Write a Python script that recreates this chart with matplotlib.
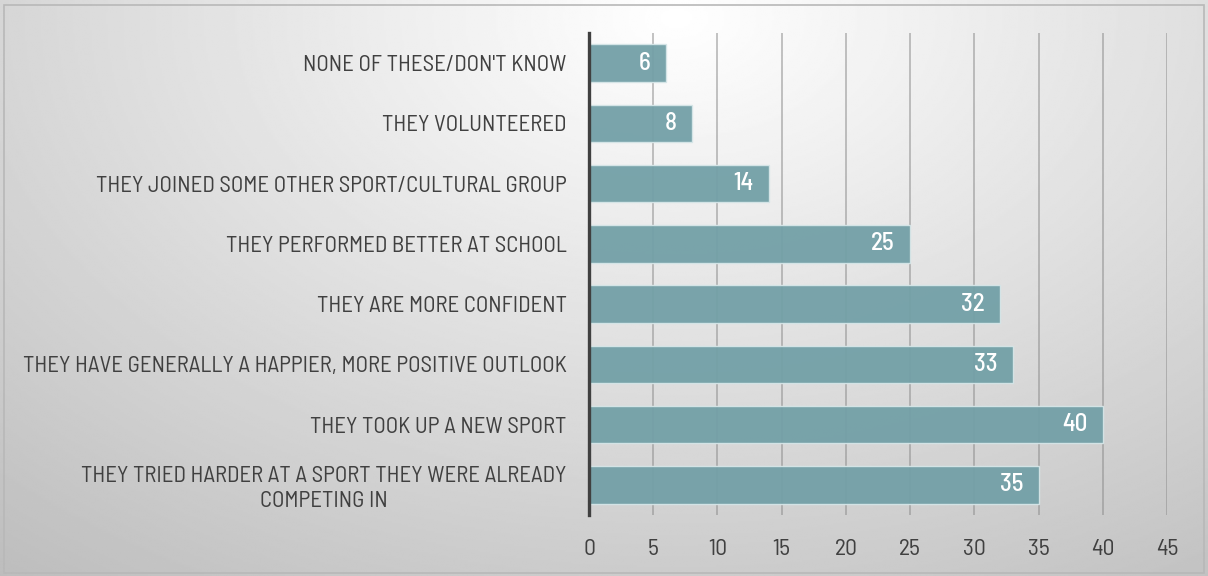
import numpy as np
import matplotlib.pyplot as plt
import matplotlib.font_manager as fm
from matplotlib.patches import Rectangle

# Datos del gráfico (de arriba a abajo)
categorias = [
    "NONE OF THESE/DON'T KNOW",
    "THEY VOLUNTEERED",
    "THEY JOINED SOME OTHER SPORT/CULTURAL GROUP",
    "THEY PERFORMED BETTER AT SCHOOL",
    "THEY ARE MORE CONFIDENT",
    "THEY HAVE GENERALLY A HAPPIER, MORE POSITIVE OUTLOOK",
    "THEY TOOK UP A NEW SPORT",
    "THEY TRIED HARDER AT A SPORT THEY WERE ALREADY\nCOMPETING IN",
]
valores = [6, 8, 14, 25, 32, 33, 40, 35]
ticks_x = [0, 5, 10, 15, 20, 25, 30, 35, 40, 45]

# Fuente estrecha: Barlow Semi Condensed si está, si no DejaVu condensada
nombres = {f.name for f in fm.fontManager.ttflist}
if 'Barlow Semi Condensed' in nombres:
    plt.rcParams['font.family'] = ['Barlow Semi Condensed', 'DejaVu Sans']
    tam = 16.5
else:
    plt.rcParams['font.family'] = ['DejaVu Sans']
    plt.rcParams['font.stretch'] = 'condensed'
    tam = 15
texto = '#404040'

fig = plt.figure(figsize=(12.08, 5.76), dpi=100)

# Fondo con degradado radial
bg = fig.add_axes([0, 0, 1, 1], zorder=-10)
gx, gy = np.meshgrid(np.linspace(0, 1, 600), np.linspace(0, 1, 300))
r = np.sqrt(((gx - 0.56) / 0.9) ** 2 + ((gy - 0.97) / 1.25) ** 2)
val = 1.0 - 0.26 * np.clip(r, 0, 1.2)
bg.imshow(val, cmap='gray', vmin=0, vmax=1, extent=[0, 1, 0, 1],
          origin='lower', aspect='auto', interpolation='bilinear')
bg.add_patch(Rectangle((0.0035, 0.006), 0.993, 0.986, fill=False,
                       edgecolor='#b8b8b8', linewidth=1.2))
bg.set_xlim(0, 1)
bg.set_ylim(0, 1)
bg.axis('off')

ax = fig.add_axes([0.4876, 0.1059, 0.4785, 0.8368])
ax.patch.set_alpha(0)

y = np.arange(len(categorias))
bars = ax.barh(y, valores, height=0.62, color='#73a0a7', alpha=0.95,
               edgecolor='#d6e6e8', linewidth=1.0, zorder=3)

for b, v in zip(bars, valores):
    ax.annotate(str(v), (b.get_width(), b.get_y() + b.get_height() / 2),
                xytext=(-11, 0), textcoords='offset points',
                ha='right', va='center', color='white', fontsize=tam + 1.5,
                fontweight='medium', zorder=4)

ax.set_xlim(0, 45)
ax.set_ylim(len(categorias) - 0.5, -0.5)
ax.set_xticks(ticks_x)
ax.set_yticks(y)
ax.set_yticklabels(categorias, multialignment='center', linespacing=1.2)
ax.tick_params(axis='y', length=0, pad=16, labelsize=tam, labelcolor=texto)
ax.tick_params(axis='x', length=0, pad=17, labelsize=tam + 0.5, labelcolor=texto)

ax.grid(axis='x', color='#8a8a8a', alpha=0.55, linewidth=1.3, zorder=1)
ax.set_axisbelow(True)
for s in ['top', 'right', 'bottom']:
    ax.spines[s].set_visible(False)
ax.spines['left'].set_color('#404040')
ax.spines['left'].set_linewidth(2.4)
ax.spines['left'].set_zorder(5)

fig.savefig('out.png', dpi=100)
